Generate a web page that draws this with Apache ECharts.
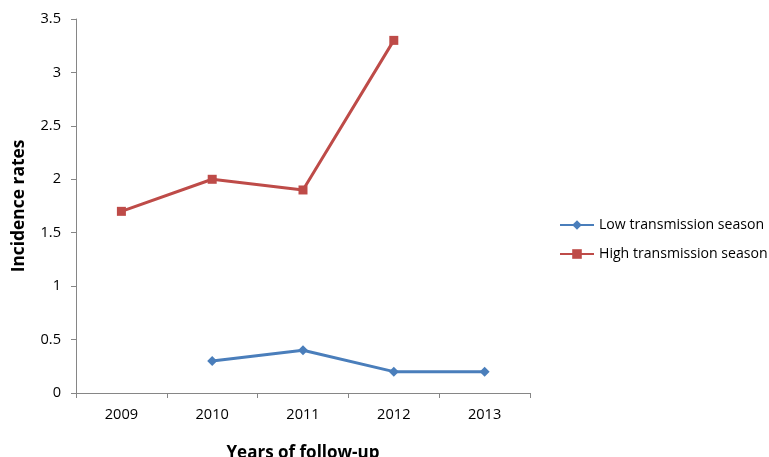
<!DOCTYPE html>
<html><head><meta charset="utf-8">
<script src="https://cdn.jsdelivr.net/npm/echarts@6/dist/echarts.min.js"></script>
<style>html,body{margin:0;padding:0;background:#fff}#c{width:769px;height:457px}</style>
</head><body><div id="c"></div>
<script>
const years = ['2009','2010','2011','2012','2013'];
const lowSeason = [null, 0.3, 0.4, 0.2, 0.2];
const highSeason = [1.7, 2.0, 1.9, 3.3, null];
const yTicks = {min: 0, max: 3.5, interval: 0.5};

const chart = echarts.init(document.getElementById('c'));
const font = "'Open Sans', 'Liberation Sans', sans-serif";
chart.setOption({
  animation: false,
  backgroundColor: '#fff',
  grid: {left: 76, right: 239, top: 19, bottom: 64, containLabel: false, outerBoundsMode: 'none'},
  legend: {
    orient: 'vertical', left: 554, top: 213, itemGap: 15,
    itemWidth: 34, itemHeight: 12,
    textStyle: {fontFamily: font, fontSize: 14.1, color: '#000'},
    data: ['Low transmission season', 'High transmission season']
  },
  xAxis: {
    type: 'category', data: years, boundaryGap: true,
    name: 'Years of follow-up', nameLocation: 'middle', nameGap: 52,
    nameTextStyle: {fontFamily: font, fontSize: 17, fontWeight: 'bold', color: '#000'},
    axisLine: {lineStyle: {color: '#868686', width: 1}},
    axisTick: {show: true, length: 5, lineStyle: {color: '#868686'}},
    axisLabel: {fontFamily: font, fontSize: 14.6, color: '#000', margin: 14}
  },
  yAxis: {
    type: 'value', min: yTicks.min, max: yTicks.max, interval: yTicks.interval,
    name: 'Incidence rates', nameLocation: 'middle', nameGap: 48,
    nameTextStyle: {fontFamily: font, fontSize: 17.4, fontWeight: 'bold', color: '#000'},
    axisLine: {show: true, lineStyle: {color: '#868686', width: 1}},
    axisTick: {show: true, length: 5, lineStyle: {color: '#868686'}},
    axisLabel: {fontFamily: font, fontSize: 14.6, color: '#000', margin: 15},
    splitLine: {show: false}
  },
  series: [
    {
      name: 'Low transmission season', type: 'line', data: lowSeason,
      symbol: 'diamond', symbolSize: 10, connectNulls: false,
      lineStyle: {color: '#4A7EBB', width: 3},
      itemStyle: {color: '#4A7EBB'}
    },
    {
      name: 'High transmission season', type: 'line', data: highSeason,
      symbol: 'rect', symbolSize: 9, connectNulls: false,
      lineStyle: {color: '#BE4B48', width: 3},
      itemStyle: {color: '#BE4B48'}
    }
  ]
});
</script></body></html>
